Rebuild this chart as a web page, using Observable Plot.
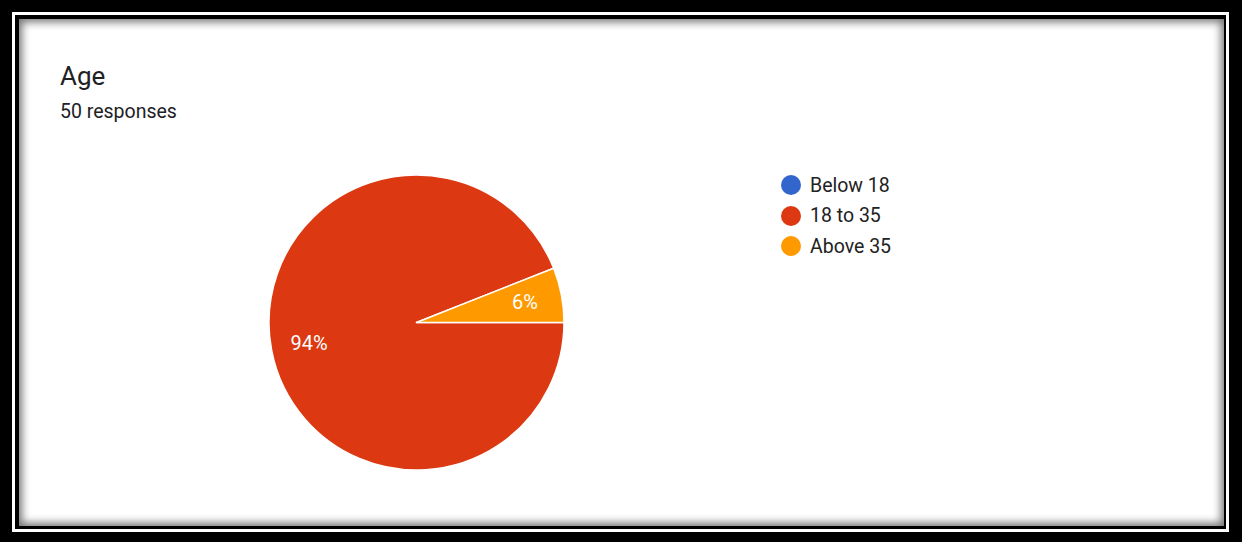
<!DOCTYPE html>
<html>
<head>
<meta charset="utf-8">
<script src="https://cdn.jsdelivr.net/npm/d3@7"></script>
<script src="https://cdn.jsdelivr.net/npm/@observablehq/plot@0.6"></script>
<style>
  html, body { margin: 0; padding: 0; }
  body { width: 1242px; height: 542px; background: #000; position: relative; overflow: hidden; font-family: Roboto, "Noto Sans", Arial, sans-serif; }
  #line { position: absolute; left: 12px; top: 12px; width: 1217px; height: 520px; background: #fff; }
  #inner { position: absolute; left: 3px; top: 3px; right: 3px; bottom: 3px; background: #000; }
  #card { position: absolute; left: 19px; top: 19px; width: 1205px; height: 507px; background: #fff; box-shadow: inset 0 0 9px 3px rgba(0,0,0,0.55); }
  #title { position: absolute; left: 60px; top: 60px; font-size: 26px; color: #202124; line-height: 32px; }
  #subtitle { position: absolute; left: 60px; top: 100px; font-size: 19.5px; color: #202124; line-height: 24px; }
  #chart { position: absolute; left: 268.5px; top: 175px; }
  #chart svg { overflow: visible; background: transparent; }
  #legend { position: absolute; left: 781px; top: 170px; }
  .item { display: flex; align-items: center; height: 30.5px; font-size: 19.5px; color: #222; }
  .sw { width: 20px; height: 20px; border-radius: 50%; margin-right: 9px; }
</style>
</head>
<body>
<div id="line"><div id="inner"></div></div>
<div id="card"></div>
<div id="title"></div>
<div id="subtitle"></div>
<div id="chart"></div>
<div id="legend"></div>
<script>
const title = "Age";
const subtitle = "50 responses";
const categories = ["Below 18", "18 to 35", "Above 35"];
const counts = [0, 47, 3];
const colors = ["#3366cc", "#dc3912", "#ff9900"];

document.getElementById("title").textContent = title;
document.getElementById("subtitle").textContent = subtitle;

const total = d3.sum(counts);
const data = categories.map((c, i) => ({category: c, value: counts[i], color: colors[i]}));
const pie = d3.pie().value(d => d.value).sort(null).startAngle(Math.PI / 2).endAngle(Math.PI / 2 + 2 * Math.PI);
const arcs = pie(data);
const labelR = 0.745;
const labels = arcs.filter(a => a.data.value > 0).map(a => {
  const mid = (a.startAngle + a.endAngle) / 2;
  return {
    x: labelR * Math.sin(mid),
    y: labelR * Math.cos(mid),
    text: Math.round(a.data.value / total * 100) + "%"
  };
});

const size = 295;
const pieMark = (index, scales, values, dimensions) => {
  const cx = scales.x(0), cy = scales.y(0);
  const r = scales.x(1) - scales.x(0);
  const arcGen = d3.arc().innerRadius(0).outerRadius(r);
  const g = d3.create("svg:g").attr("transform", `translate(${cx},${cy})`);
  g.selectAll("path")
    .data(arcs.filter(a => a.data.value > 0))
    .join("path")
    .attr("d", arcGen)
    .attr("fill", d => d.data.color)
    .attr("stroke", "#fff")
    .attr("stroke-width", 1.5)
    .attr("stroke-linejoin", "round");
  return g.node();
};

const chart = Plot.plot({
  width: size,
  height: size,
  margin: 0,
  x: {domain: [-1, 1], axis: null},
  y: {domain: [-1, 1], axis: null},
  style: {background: "transparent", fontFamily: "Roboto, sans-serif"},
  marks: [
    pieMark,
    Plot.text(labels, {x: "x", y: "y", text: "text", fill: "#fff", fontSize: 20, fontFamily: "Roboto"})
  ]
});
document.getElementById("chart").appendChild(chart);

const legend = d3.select("#legend");
categories.forEach((c, i) => {
  const item = legend.append("div").attr("class", "item");
  item.append("div").attr("class", "sw").style("background", colors[i]);
  item.append("span").text(c);
});
</script>
</body>
</html>
